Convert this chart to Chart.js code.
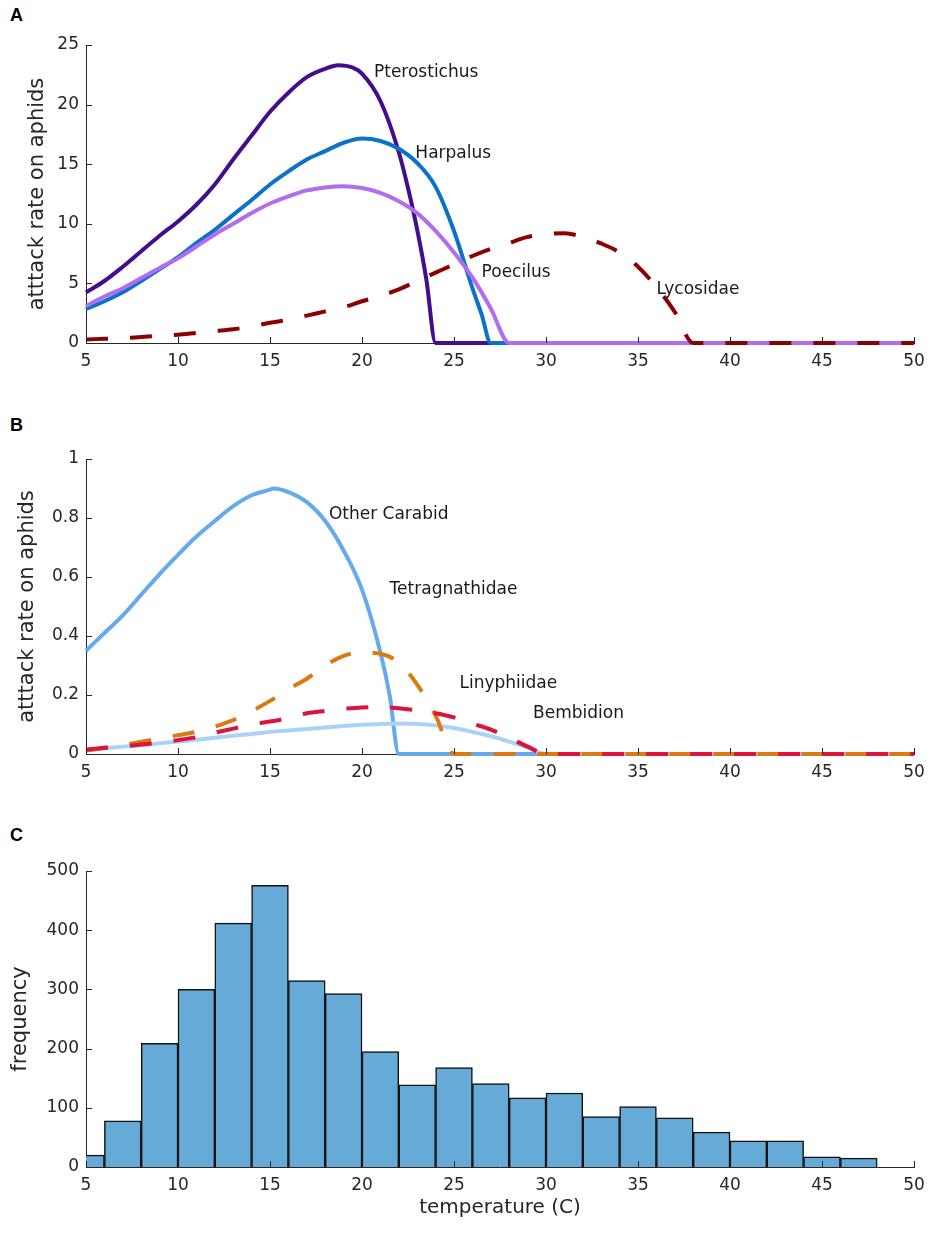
<!DOCTYPE html>
<html>
<head>
<meta charset="utf-8">
<script src="https://cdn.jsdelivr.net/npm/chart.js@4.4.1/dist/chart.umd.min.js"></script>
<style>
  body { margin: 0; background: #fff; }
  #page { position: relative; width: 935px; height: 1235px; background: #fff; }
  #page canvas { position: absolute; left: 0; }
  .letter { position: absolute; left: 10px; font: bold 18px "Liberation Sans", Arial, sans-serif; color: #000; }
</style>
</head>
<body>
<div id="page">
  <div class="letter" style="top:5px">A</div>
  <div class="letter" style="top:415px">B</div>
  <div class="letter" style="top:825px">C</div>
  <canvas id="chart-a" width="935" height="390" style="top:0"></canvas>
  <canvas id="chart-b" width="935" height="400" style="top:400px"></canvas>
  <canvas id="chart-c" width="935" height="425" style="top:810px"></canvas>
</div>
<script>
// tick labels
const tempTicks = [5, 10, 15, 20, 25, 30, 35, 40, 45, 50]
const rateTicksA = [0, 5, 10, 15, 20, 25]
const rateTicksB = [0, 0.2, 0.4, 0.6, 0.8, 1]
const freqTicks = [0, 100, 200, 300, 400, 500]

// panel A - attack rate curves
const pterostichusT = [5, 6, 7, 8, 9, 10, 11, 12, 13, 14, 15, 16, 17, 18, 18.7, 19.5, 20, 21, 22, 22.5, 23, 23.5, 24, 50]
const pterostichus = [4.25, 5.2, 6.4, 7.7, 9.0, 10.2, 11.6, 13.3, 15.4, 17.4, 19.4, 21.0, 22.3, 23.0, 23.3, 23.1, 22.6, 20.3, 16.0, 13.0, 9.5, 5.3, 0, 0]

const harpalusT = [5, 6, 7, 8, 9, 10, 11, 12, 13, 14, 15, 16, 17, 18, 19, 20, 21, 22, 23, 24, 25, 26, 26.5, 27, 50]
const harpalus = [2.85, 3.5, 4.25, 5.2, 6.2, 7.2, 8.4, 9.5, 10.75, 12.0, 13.3, 14.4, 15.4, 16.1, 16.8, 17.15, 16.95, 16.3, 15.1, 13.1, 9.4, 4.6, 2.4, 0, 0]

const poecilusT = [5, 6, 7, 8, 9, 10, 11, 12, 13, 14, 15, 16, 17, 18, 19, 20, 21, 22, 23, 24, 25, 26, 27, 28, 50]
const poecilus = [3.1, 3.9, 4.6, 5.45, 6.3, 7.1, 8.1, 9.1, 10.0, 10.9, 11.7, 12.3, 12.8, 13.05, 13.15, 13.0, 12.6, 11.9, 10.9, 9.4, 7.6, 5.5, 2.9, 0, 0]

const lycosidaeT = [5, 6, 7, 8, 9, 10, 11, 12, 13, 14, 15, 16, 17, 18, 19, 20, 21, 22, 23, 24, 25, 26, 27, 28, 29, 30, 31, 32, 33, 34, 35, 36, 37, 38, 50]
const lycosidae = [0.3, 0.35, 0.4, 0.5, 0.6, 0.7, 0.85, 1.0, 1.15, 1.4, 1.7, 1.95, 2.3, 2.65, 3.0, 3.5, 3.95, 4.5, 5.2, 5.9, 6.6, 7.3, 7.9, 8.4, 8.9, 9.15, 9.2, 8.9, 8.35, 7.6, 6.4, 4.7, 2.6, 0, 0]

// panel B - attack rate curves
const otherCarabidT = [5, 6, 7, 8, 9, 10, 11, 12, 13, 14, 15, 15.2, 16, 17, 18, 19, 20, 21, 21.5, 22, 50]
const otherCarabid = [0.35, 0.41, 0.47, 0.54, 0.61, 0.675, 0.737, 0.79, 0.84, 0.877, 0.896, 0.9, 0.888, 0.854, 0.79, 0.69, 0.557, 0.344, 0.2, 0, 0]

const tetragnathidaeT = [5, 6, 7, 8, 9, 10, 11, 12, 13, 14, 15, 16, 17, 18, 19, 20, 21, 22, 23, 24, 25, 50]
const tetragnathidae = [0.012, 0.02, 0.03, 0.042, 0.052, 0.064, 0.075, 0.093, 0.115, 0.145, 0.18, 0.22, 0.255, 0.3, 0.333, 0.344, 0.34, 0.31, 0.235, 0.13, 0, 0]

const linyphiidaeT = [5, 6, 7, 8, 9, 10, 11, 12, 13, 14, 15, 16, 17, 18, 19, 20, 21, 22, 23, 24, 25, 26, 27, 28, 29, 30, 50]
const linyphiidae = [0.015, 0.021, 0.026, 0.032, 0.039, 0.047, 0.057, 0.072, 0.086, 0.1, 0.11, 0.122, 0.138, 0.146, 0.153, 0.158, 0.159, 0.155, 0.148, 0.138, 0.124, 0.103, 0.083, 0.055, 0.025, 0, 0]

const bembidionT = [5, 6, 7, 8, 9, 10, 11, 12, 13, 14, 15, 16, 17, 18, 19, 20, 21, 22, 23, 24, 25, 26, 27, 28, 29, 30, 50]
const bembidion = [0.013, 0.019, 0.025, 0.03, 0.036, 0.042, 0.048, 0.055, 0.062, 0.068, 0.075, 0.08, 0.085, 0.09, 0.095, 0.099, 0.102, 0.103, 0.102, 0.097, 0.088, 0.075, 0.06, 0.042, 0.022, 0, 0]

// panel C - temperature histogram (bins of 2 degrees, centres)
const binCentres = [5, 7, 9, 11, 13, 15, 17, 19, 21, 23, 25, 27, 29, 31, 33, 35, 37, 39, 41, 43, 45, 47]
const frequency = [20, 78, 209, 300, 412, 476, 315, 293, 195, 139, 168, 141, 117, 125, 85, 102, 83, 59, 44, 44, 17, 15]

const textColor = '#262626'
const font = 'DejaVu Sans'

const toPoints = (xs, ys) => xs.map((x, i) => ({ x: x, y: ys[i] }))

// matlab style ticks pointing into the axes
const inwardTicks = {
  id: 'inwardTicks',
  afterDraw(chart) {
    const { ctx, chartArea, scales } = chart
    ctx.save()
    ctx.strokeStyle = textColor
    ctx.lineWidth = 1
    ctx.beginPath()
    scales.x.ticks.forEach(t => {
      const px = Math.round(scales.x.getPixelForValue(t.value)) + 0.5
      ctx.moveTo(px, chartArea.bottom)
      ctx.lineTo(px, chartArea.bottom - 6)
    })
    scales.y.ticks.forEach(t => {
      const py = Math.round(scales.y.getPixelForValue(t.value)) + 0.5
      ctx.moveTo(chartArea.left, py)
      ctx.lineTo(chartArea.left + 6, py)
    })
    ctx.stroke()
    ctx.restore()
  }
}

// text labels next to the curves, placed in data units
const curveLabels = {
  id: 'curveLabels',
  afterDatasetsDraw(chart, args, opts) {
    if (!opts.items) return
    const { ctx, scales } = chart
    ctx.save()
    ctx.fillStyle = '#1a1a1a'
    ctx.font = '17px "' + font + '"'
    ctx.textAlign = 'left'
    ctx.textBaseline = 'middle'
    opts.items.forEach(item => {
      ctx.fillText(item.text, scales.x.getPixelForValue(item.x), scales.y.getPixelForValue(item.y))
    })
    ctx.restore()
  }
}

function axes(yTicks, yMax, yTitle, yTitlePad, xTitle, xHeight) {
  return {
    x: {
      type: 'linear',
      min: 5,
      max: 50,
      offset: false,
      grid: { display: false, drawTicks: false },
      border: { display: true, color: textColor, width: 1 },
      afterBuildTicks: (scale) => { scale.ticks = tempTicks.map(v => ({ value: v })) },
      afterFit: (scale) => { scale.height = xHeight },
      ticks: { color: textColor, padding: 8, maxRotation: 0, font: { family: font, size: 17 } },
      title: {
        display: !!xTitle,
        text: xTitle,
        color: textColor,
        font: { family: font, size: 20 },
        padding: { bottom: 15 }
      }
    },
    y: {
      min: 0,
      max: yMax,
      grid: { display: false, drawTicks: false },
      border: { display: true, color: textColor, width: 1 },
      afterBuildTicks: (scale) => { scale.ticks = yTicks.map(v => ({ value: v })) },
      afterFit: (scale) => { scale.width = 86 },
      ticks: {
        color: textColor,
        padding: 7,
        font: { family: font, size: 17 },
        callback: (value) => String(value)
      },
      title: {
        display: true,
        text: yTitle,
        color: textColor,
        font: { family: font, size: 21 },
        padding: { top: yTitlePad, bottom: 0 }
      }
    }
  }
}

const baseOptions = {
  responsive: false,
  animation: false,
  events: [],
  plugins: { legend: { display: false }, tooltip: { enabled: false } },
  elements: { point: { radius: 0 }, line: { cubicInterpolationMode: 'monotone', borderCapStyle: 'butt' } }
}

function lineSet(label, xs, ys, color, order, dashed) {
  return {
    label: label,
    data: toPoints(xs, ys),
    borderColor: color,
    borderWidth: 4,
    borderDash: dashed ? [22, 22] : [],
    fill: false,
    clip: 6,
    order: order
  }
}

// panel A
new Chart(document.getElementById('chart-a'), {
  type: 'line',
  data: {
    datasets: [
      lineSet('Pterostichus', pterostichusT, pterostichus, '#430d8e', 3, false),
      lineSet('Harpalus', harpalusT, harpalus, '#0a72c8', 2, false),
      lineSet('Poecilus', poecilusT, poecilus, '#b26cf0', 1, false),
      lineSet('Lycosidae', lycosidaeT, lycosidae, '#8b0000', 0, true)
    ]
  },
  options: {
    ...baseOptions,
    layout: { padding: { top: 45, right: 21, left: 0, bottom: 0 } },
    scales: axes(rateTicksA, 25, 'atttack rate on aphids', 25, '', 47),
    plugins: {
      ...baseOptions.plugins,
      curveLabels: {
        items: [
          { text: 'Pterostichus', x: 20.65, y: 22.7 },
          { text: 'Harpalus', x: 22.9, y: 15.9 },
          { text: 'Poecilus', x: 26.5, y: 5.9 },
          { text: 'Lycosidae', x: 36.0, y: 4.5 }
        ]
      }
    }
  },
  plugins: [inwardTicks, curveLabels]
})

// panel B
new Chart(document.getElementById('chart-b'), {
  type: 'line',
  data: {
    datasets: [
      lineSet('Other Carabid', otherCarabidT, otherCarabid, '#64aaec', 3, false),
      lineSet('Bembidion', bembidionT, bembidion, '#aad2f6', 2, false),
      lineSet('Tetragnathidae', tetragnathidaeT, tetragnathidae, '#d97a12', 1, true),
      lineSet('Linyphiidae', linyphiidaeT, linyphiidae, '#dc143c', 0, true)
    ]
  },
  options: {
    ...baseOptions,
    layout: { padding: { top: 59, right: 21, left: 0, bottom: 0 } },
    scales: axes(rateTicksB, 1, 'atttack rate on aphids', 15, '', 46),
    plugins: {
      ...baseOptions.plugins,
      curveLabels: {
        items: [
          { text: 'Other Carabid', x: 18.2, y: 0.81 },
          { text: 'Tetragnathidae', x: 21.5, y: 0.556 },
          { text: 'Linyphiidae', x: 25.3, y: 0.24 },
          { text: 'Bembidion', x: 29.3, y: 0.136 }
        ]
      }
    }
  },
  plugins: [inwardTicks, curveLabels]
})

// panel C
new Chart(document.getElementById('chart-c'), {
  type: 'bar',
  data: {
    datasets: [{
      label: 'frequency',
      data: toPoints(binCentres, frequency),
      backgroundColor: 'rgb(102, 170, 215)',
      borderColor: '#111111',
      borderWidth: 1.5,
      barPercentage: 1,
      categoryPercentage: 1,
      clip: 0
    }]
  },
  options: {
    ...baseOptions,
    layout: { padding: { top: 61, right: 21, left: 0, bottom: 0 } },
    scales: axes(freqTicks, 500, 'frequency', 8, 'temperature (C)', 68),
    plugins: { ...baseOptions.plugins }
  },
  plugins: [inwardTicks]
})
</script>
</body>
</html>
